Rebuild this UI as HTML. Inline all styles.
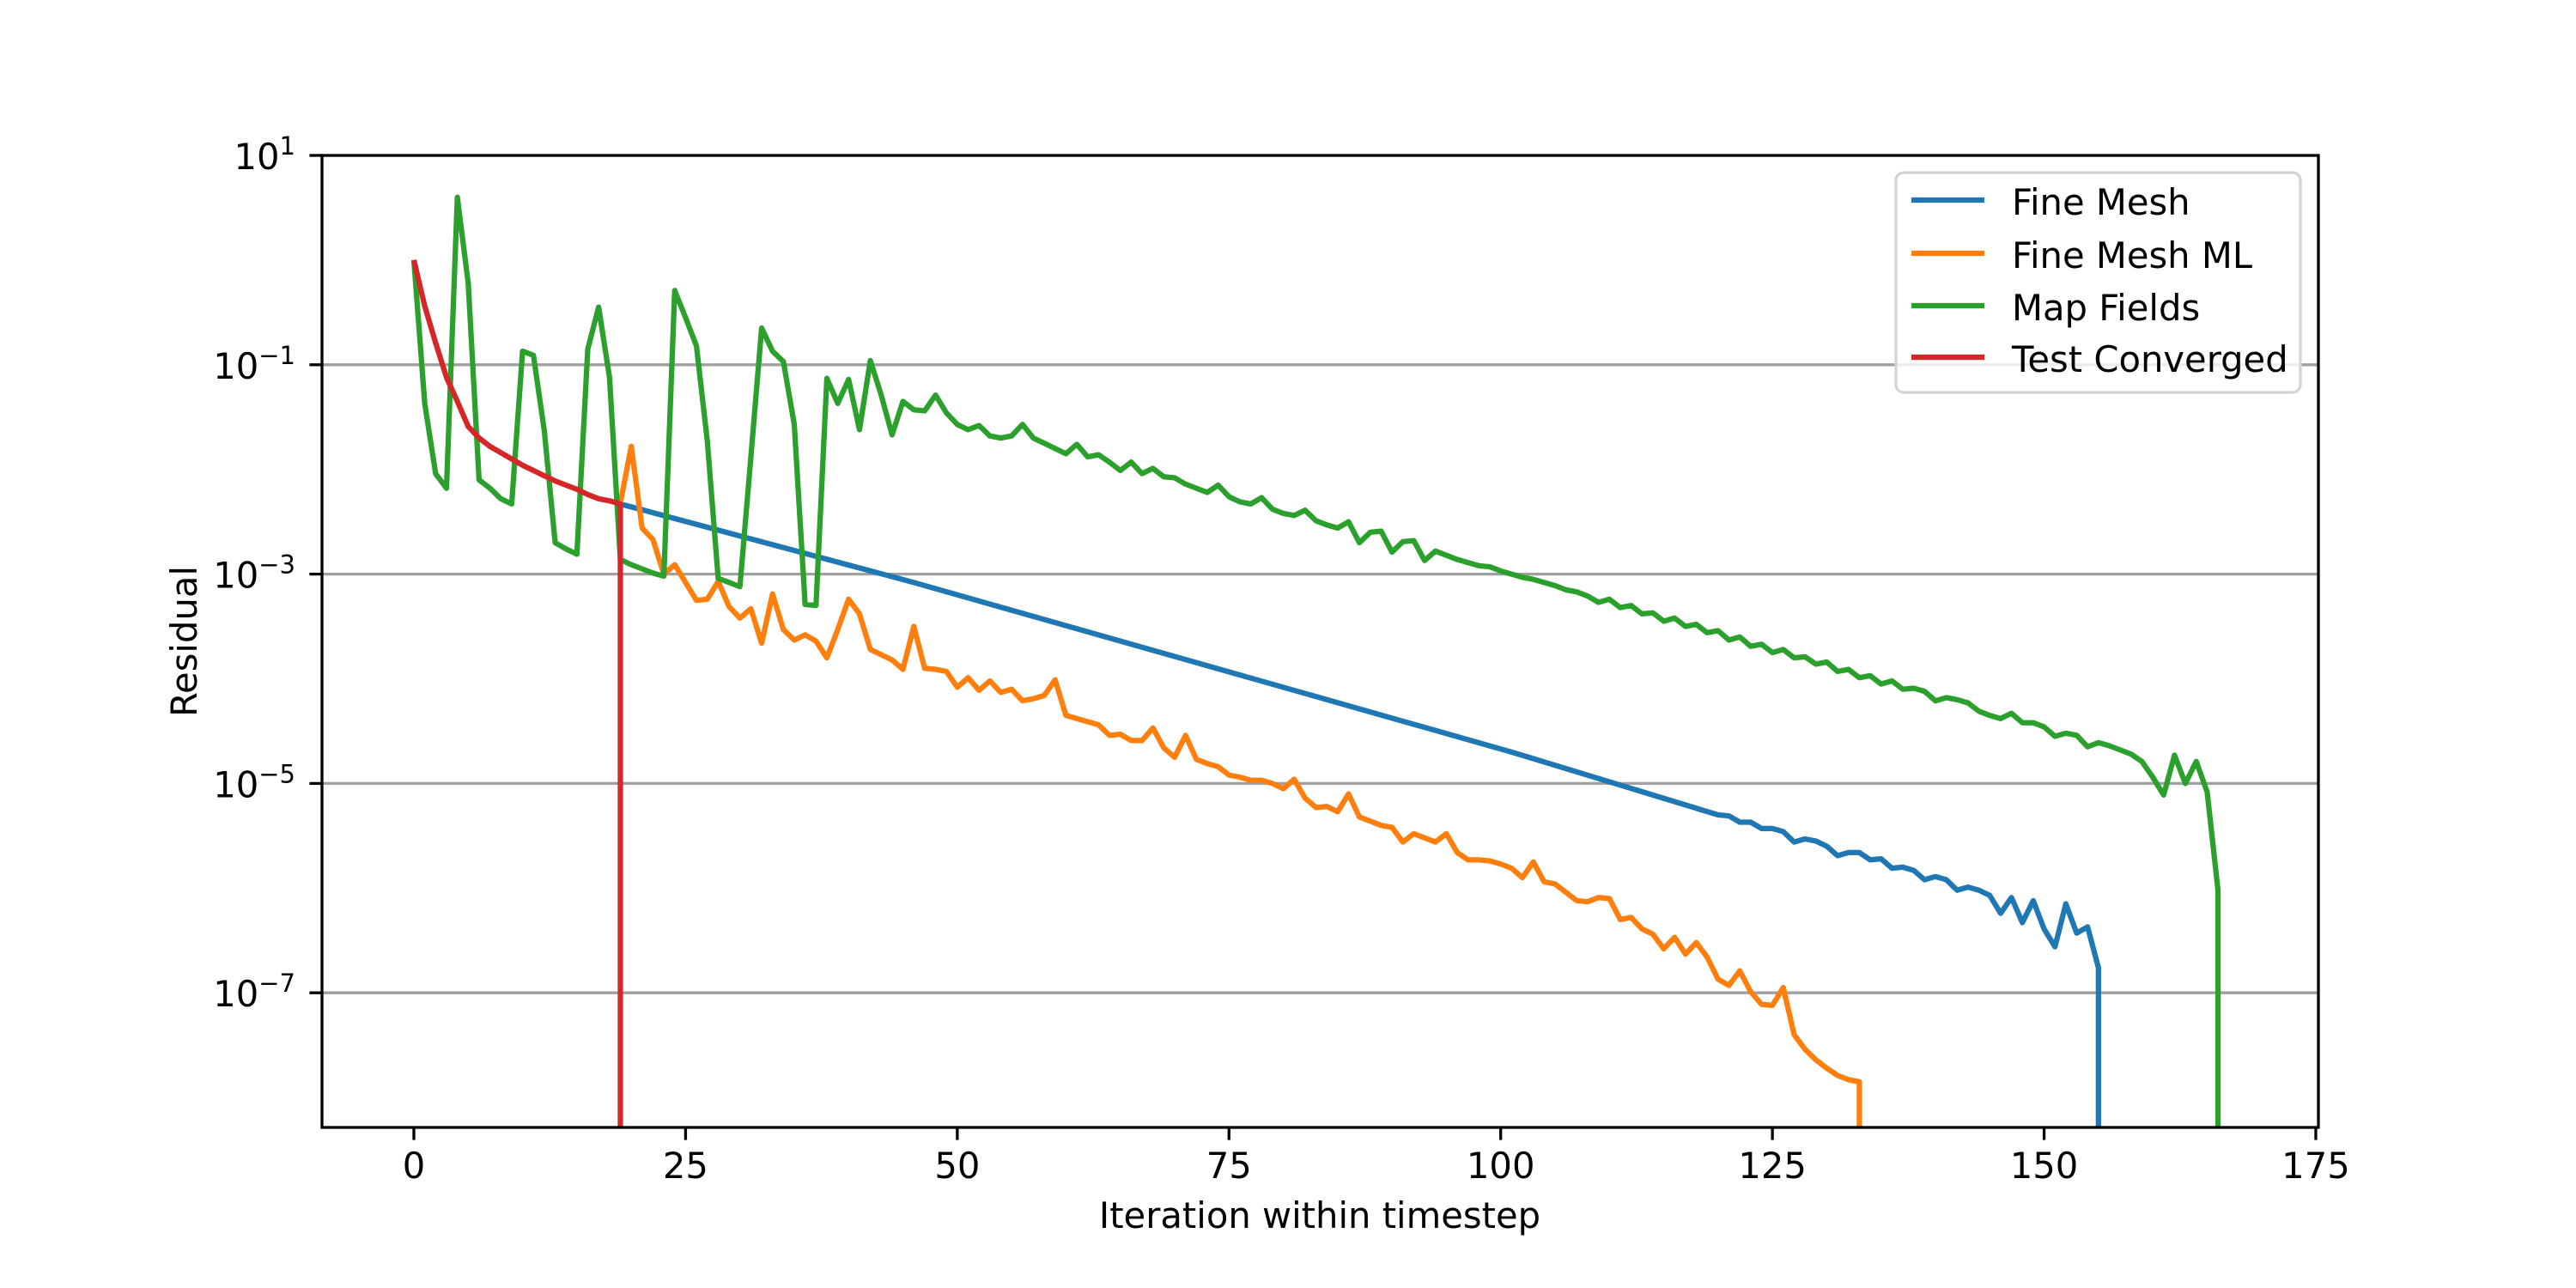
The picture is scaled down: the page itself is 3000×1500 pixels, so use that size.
<!DOCTYPE html>
<html><head><meta charset="utf-8"><style>
html,body{margin:0;padding:0;background:#fff;width:3000px;height:1500px;overflow:hidden;}
svg{display:block;font-family:"DejaVu Sans","Liberation Sans",sans-serif;}
</style></head><body>
<svg id="chart" width="3000" height="1500" viewBox="0 0 3000 1500" xmlns="http://www.w3.org/2000/svg">
<rect width="3000" height="1500" fill="#fff"/>
<defs><clipPath id="plotclip"><rect x="375" y="181" width="2325" height="1132"/></clipPath></defs>
<g id="grid"></g>
<g id="series" clip-path="url(#plotclip)"></g>
<g id="axes"></g>
<text x="1537" y="1430" font-size="41.7" text-anchor="middle">Iteration within timestep</text>
<text x="229" y="747" font-size="41.7" text-anchor="middle" transform="rotate(-90 229 747)">Residual</text>
<g id="legend"></g>
</svg>
<script>
// Data (residuals stored as log10 values; null = residual exactly zero)
const xTicks = [0, 25, 50, 75, 100, 125, 150, 175];
const yTickExponents = [1, -1, -3, -5, -7];
const seriesNames = ["Fine Mesh", "Fine Mesh ML", "Map Fields", "Test Converged"];
const seriesColors = ["#1f77b4", "#ff7f0e", "#2ca02c", "#d62728"];

const fineMeshIter = [19, 46, 101, 120, 121,122,123,124,125,126,127,128,129,130,131,132,133,134,135,136,137,138,139,140,141,142,143,144,145,146,147,148,149,150,151,152,153,154,155,156];
const fineMeshLog10 = [-2.33, -3.08, -4.70, -5.30,
 -5.31,-5.37,-5.37,-5.43,-5.43,-5.46,-5.56,-5.53,-5.55,-5.60,-5.69,-5.66,-5.66,-5.73,-5.72,-5.81,-5.80,-5.83,-5.92,-5.89,-5.92,-6.02,-5.99,-6.02,-6.07,-6.24,-6.09,-6.33,-6.12,-6.39,-6.56,-6.15,-6.43,-6.37,-6.76, null];

const fineMeshMLStart = 19;
const fineMeshMLLog10 = [-2.32,-1.78,-2.56,-2.67,-3.0,-2.91,-3.08,-3.25,-3.24,-3.07,-3.31,-3.42,-3.33,-3.66,-3.19,-3.53,-3.63,-3.58,-3.64,-3.80,-3.53,-3.24,-3.38,-3.72,-3.77,-3.82,-3.91,-3.50,
 -3.90,-3.91,-3.93,-4.08,-3.99,-4.11,-4.02,-4.13,-4.10,-4.21,-4.19,-4.16,-4.01,-4.35,-4.38,-4.41,-4.44,-4.54,-4.53,-4.59,-4.59,-4.47,-4.66,-4.75,-4.54,-4.77,-4.81,-4.84,-4.92,-4.94,-4.97,-4.97,-5.00,-5.05,-4.96,-5.14,-5.23,-5.22,-5.27,-5.10,-5.32,-5.36,-5.40,-5.42,-5.56,-5.48,-5.52,-5.56,-5.48,-5.66,-5.73,-5.73,-5.74,-5.77,
 -5.81,-5.90,-5.75,-5.94,-5.96,-6.04,-6.12,-6.13,-6.09,-6.10,-6.30,-6.28,-6.39,-6.44,-6.58,-6.47,-6.63,-6.52,-6.66,-6.87,-6.93,-6.79,-6.99,-7.11,-7.12,-6.95,-7.40,-7.54,-7.64,-7.72,-7.79,-7.83,-7.85, null];

const mapFieldsStart = 0;
const mapFieldsLog10 = [0.0,-1.37,-2.04,-2.18,0.6,-0.22,-2.10,-2.18,-2.28,-2.33,-0.87,-0.91,-1.63,-2.70,-2.76,-2.81,-0.85,-0.45,-1.12,-2.86,-2.91,-2.95,-2.99,-3.02,-0.29,-0.55,-0.82,-1.73,-3.04,-3.08,-3.12,-1.89,-0.65,-0.87,-0.97,-1.57,-3.29,-3.30,-1.13,-1.37,-1.14,-1.62,-0.96,-1.29,-1.67,-1.35,
 -1.43,-1.44,-1.29,-1.46,-1.57,-1.62,-1.58,-1.68,-1.70,-1.68,-1.57,-1.70,-1.75,-1.80,-1.85,-1.76,-1.88,-1.86,-1.93,-2.01,-1.93,-2.04,-1.99,-2.07,-2.08,-2.14,-2.18,-2.22,-2.15,-2.26,-2.31,-2.33,-2.27,-2.38,-2.42,-2.44,-2.39,-2.49,-2.53,-2.56,-2.50,-2.70,-2.60,-2.59,-2.79,-2.69,-2.68,-2.87,-2.78,-2.82,-2.86,-2.89,-2.92,-2.93,-2.97,
 -3.00,-3.03,-3.05,-3.08,-3.11,-3.15,-3.17,-3.21,-3.27,-3.24,-3.32,-3.30,-3.38,-3.37,-3.45,-3.42,-3.50,-3.48,-3.56,-3.54,-3.63,-3.60,-3.69,-3.67,-3.75,-3.72,-3.80,-3.79,-3.86,-3.84,-3.93,-3.91,-3.99,-3.97,-4.05,-4.02,-4.10,-4.09,-4.12,-4.21,-4.18,-4.20,-4.23,-4.31,-4.35,-4.38,-4.33,-4.42,-4.42,-4.46,-4.55,-4.52,-4.54,-4.65,-4.61,-4.64,-4.68,-4.72,-4.79,-4.94,-5.11,-4.73,-5.00,-4.79,-5.08,-6.02, null];

const testConvergedStart = 0;
const testConvergedLog10 = [0.0,-0.44,-0.79,-1.12,-1.35,-1.59,-1.70,-1.78,-1.84,-1.90,-1.96,-2.01,-2.06,-2.11,-2.15,-2.19,-2.24,-2.28,-2.30,-2.33, null];

// Axes geometry
const PL = 375, PR = 2700, PT = 181, PB = 1313;
const X0PX = 482, XUNIT = 12.657;
const YTOPLOG = 1, YDECADE = 121.9;
function xScale(v){ return X0PX + v * XUNIT; }
function yScale(lg){ return lg === null ? PB + 40 : PT + (YTOPLOG - lg) * YDECADE; }

const NS = "http://www.w3.org/2000/svg";
function mk(tag, attrs, parent){ const e = document.createElementNS(NS, tag); for (const k in attrs) e.setAttribute(k, attrs[k]); parent.appendChild(e); return e; }

const grid = document.getElementById('grid');
const axes = document.getElementById('axes');
const seriesG = document.getElementById('series');
const legend = document.getElementById('legend');

yTickExponents.forEach(ex => {
  const y = yScale(ex);
  if (y > PT + 2 && y < PB - 2) {
    const g = mk('line', {x1: PL, x2: PR, y1: y, y2: y, stroke: '#a0a0a0', 'stroke-width': 3.3}, grid);
    
    
  }
  const t = mk('line', {x1: PL - 14.6, x2: PL, y1: y, y2: y, stroke: '#000', 'stroke-width': 3.3}, axes);
  
  
  const lab = mk('text', {x: 344, y: y + 16, 'font-size': 41.7, 'text-anchor': 'end', fill: '#000'}, axes);
  
  
  const a = document.createElementNS(NS, 'tspan'); a.textContent = '10'; lab.appendChild(a);
  const b = document.createElementNS(NS, 'tspan'); b.setAttribute('dy', '-17'); b.setAttribute('font-size', '29');
  b.textContent = (ex < 0 ? '\u2212' : '') + Math.abs(ex); lab.appendChild(b);
});

xTicks.forEach(v => {
  const x = xScale(v);
  const t = mk('line', {x1: x, x2: x, y1: PB, y2: PB + 14.6, stroke: '#000', 'stroke-width': 3.3}, axes);
  
  
  const lab = mk('text', {x: x, y: 1372, 'font-size': 41.7, 'text-anchor': 'middle', fill: '#000'}, axes);
  
  
  lab.textContent = String(v);
});

const frame = mk('rect', {x: PL, y: PT, width: PR - PL, height: PB - PT, fill: 'none', stroke: '#000', 'stroke-width': 3.3}, axes);



function range(start, n){ const a = []; for (let i = 0; i < n; i++) a.push(start + i); return a; }
const seriesX = [fineMeshIter, range(fineMeshMLStart, fineMeshMLLog10.length), range(mapFieldsStart, mapFieldsLog10.length), range(testConvergedStart, testConvergedLog10.length)];
const seriesY = [fineMeshLog10, fineMeshMLLog10, mapFieldsLog10, testConvergedLog10];
const seriesKeys = ['fine-mesh', 'fine-mesh-ml', 'map-fields', 'test-converged'];

seriesY.forEach((ys, s) => {
  const xs = seriesX[s];
  let d = '';
  ys.forEach((lg, i) => {
    let px = xScale(xs[i]);
    if (lg === null && i > 0) px = xScale(xs[i - 1]);
    d += (i ? 'L' : 'M') + px.toFixed(2) + ',' + yScale(lg).toFixed(2);
  });
  const p = mk('path', {d: d, fill: 'none', stroke: seriesColors[s], 'stroke-width': 6.25, 'stroke-linejoin': 'round', 'stroke-linecap': 'butt'}, seriesG);
  
  
});

const lb = mk('rect', {x: 2208, y: 201, width: 471, height: 256, rx: 9, fill: '#fff', 'fill-opacity': 0.8, stroke: '#d4d4d4', 'stroke-width': 3.3}, legend);


const rowY = [233, 295, 356, 416];
seriesNames.forEach((n, i) => {
  const g = mk('g', {}, legend);
  
  
  mk('line', {x1: 2226, x2: 2311, y1: rowY[i], y2: rowY[i], stroke: seriesColors[i], 'stroke-width': 6.25}, g);
  const t = mk('text', {x: 2343, y: rowY[i] + 17, 'font-size': 41.7, fill: '#000'}, g);
  t.textContent = n;
});
</script>
</body></html>
